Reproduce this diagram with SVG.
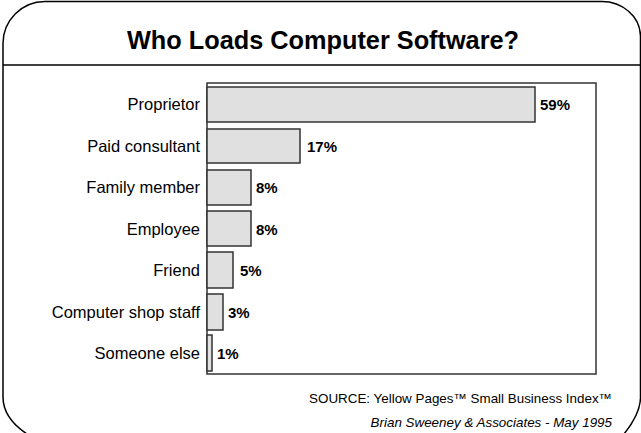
<svg xmlns="http://www.w3.org/2000/svg" width="641" height="433" viewBox="0 0 641 433">
<style>
.lbl{font-family:"Liberation Sans",Arial,sans-serif;font-size:16.5px;fill:#000;text-anchor:end}
.val{font-family:"Liberation Sans",Arial,sans-serif;font-size:15px;font-weight:bold;fill:#000}
.bar{fill:#e0e0e0;stroke:#333;stroke-width:1.5}
.src{font-family:"Liberation Sans",Arial,sans-serif;font-size:13.4px;fill:#000;text-anchor:end}
</style>
<rect width="641" height="433" fill="#fff"/>
<g id="frame" fill="none" stroke="#000" stroke-width="1.5">
<path d="M27,434 C12,424 3,412 3,397 L3,44 A42,42 0 0 1 45,1.5 L602,1.5 C622,1.5 640,16 640.5,36 L640.5,398 C640,412 632,424 624,434"/>
<line x1="3" y1="65" x2="641" y2="65"/>
</g>
<g id="title"><text x="323" y="49" text-anchor="middle" style="font-family:'Liberation Sans',Arial,sans-serif;font-size:25.3px;font-weight:bold">Who Loads Computer Software?</text></g>
<g id="chart">
<rect x="207" y="83" width="389" height="291" fill="#fff" stroke="#333" stroke-width="1.5"/>
</g>
<g id="bar-proprietor"><rect class="bar" x="207" y="87" width="328" height="35"/><text class="lbl" x="200" y="110">Proprietor</text><text class="val" x="540" y="110">59%</text></g>
<g id="bar-paid"><rect class="bar" x="207" y="129" width="93" height="34"/><text class="lbl" x="200" y="152">Paid consultant</text><text class="val" x="307" y="152">17%</text></g>
<g id="bar-family"><rect class="bar" x="207" y="170" width="44" height="35"/><text class="lbl" x="200" y="193">Family member</text><text class="val" x="256" y="193">8%</text></g>
<g id="bar-employee"><rect class="bar" x="207" y="211" width="44" height="35"/><text class="lbl" x="200" y="235">Employee</text><text class="val" x="256" y="235">8%</text></g>
<g id="bar-friend"><rect class="bar" x="207" y="252" width="26" height="36"/><text class="lbl" x="200" y="276">Friend</text><text class="val" x="240" y="276">5%</text></g>
<g id="bar-shop"><rect class="bar" x="207" y="294" width="16" height="36"/><text class="lbl" x="200" y="318">Computer shop staff</text><text class="val" x="228" y="318">3%</text></g>
<g id="bar-else"><rect class="bar" x="207" y="335" width="5" height="36"/><text class="lbl" x="200" y="359">Someone else</text><text class="val" x="217" y="359">1%</text></g>
<g id="source">
<text class="src" x="612" y="403">SOURCE: Yellow Pages™  Small Business Index™</text>
<text class="src" x="612" y="427" font-style="italic">Brian Sweeney &amp; Associates - May 1995</text>
</g>
</svg>
